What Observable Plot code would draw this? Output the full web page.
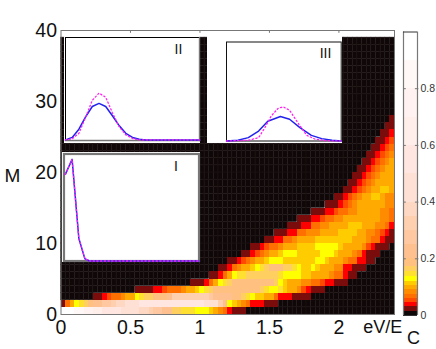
<!DOCTYPE html>
<html><head><meta charset="utf-8">
<script src="https://cdn.jsdelivr.net/npm/d3@7"></script>
<script src="https://cdn.jsdelivr.net/npm/@observablehq/plot@0.6"></script>
<style>
html,body{margin:0;padding:0;background:#fff}
#fig{position:relative;width:436px;height:349px;overflow:hidden;font-family:"Liberation Sans",Arial,sans-serif}
#fig svg{position:absolute;display:block;background:transparent}
</style></head><body><div id="fig"></div>
<script>
// colour scale
const thresholds=[.015,.03,.047,.06,.075,.09,.105,.12,.137,.155,.173,.2,.25,.3,.35,.4,.5,.6,.7,.8,.9];
const colours=["#100808","#7a0c0c","#ff0000","#ff4a00","#ff7000","#ff8c00","#ffaa00","#ffcc00","#ffff00","#ffe030","#ffd060","#ffc080","#ffc090","#ffc8a0","#ffd0b0","#ffd8c4","#ffe0d4","#ffe6e0","#ffeeea","#fff2f0","#fff8f7","#ffffff"];
// heat map: first occupied column of each row M, then the values read from that column on
const rowStart=[0,0,7,16,28,32,34,36,39,41,44,46,49,51,54,57,59,61,62,63,64,65,66,67,68,69,70,71];
const M0=[.95,.95,.9,.85,.8,.75,.7,.65,.6,.58,.55,.52,.5,.48,.45,.42,.4,.38,.35,.32,.28,.26,.24,.22,.17,.165,.15,.146,.146,.135,.128,.125,.11,.095,.085,.07,.04,.022,.022,.022];
const M1=[.022,.06,.1,.128,.15,.17,.19,.2,.22,.25,.28,.32,.35,.38,.42,.45,.48,.5,.5,.5,.5,.5,.5,.5,.5,.5,.5,.5,.5,.5,.5,.48,.48,.45,.3,.22,.128,.11,.095,.08,.07,.04,.04,.04,.022,.022,.022];
const M2=[.022,.022,.04,.055,.07,.07,.08,.09,.1,.128,.146,.165,.17,.18,.19,.19,.2,.3,.3,.3,.3,.3,.3,.3,.3,.25,.24,.22,.21,.2,.19,.18,.17,.146,.128,.11,.11,.1,.09,.07,.04,.04,.04,.022,.022,.022,.022];
const M3=[.022,.022,.022,.022,.04,.04,.05,.06,.07,.07,.08,.09,.1,.11,.128,.146,.165,.18,.19,.19,.19,.19,.19,.19,.19,.19,.19,.17,.146,.128,.128,.146,.11,.1,.09,.08,.055,.04,.022,.022,.022];
const M4=[.022,.022,.022,.04,.06,.09,.128,.146,.17,.19,.19,.19,.19,.19,.19,.19,.19,.19,.165,.128,.11,.1,.095,.09,.08,.08,.07,.07,.055,.04,.04,.022,.022,.022];
const M5=[.022,.022,.04,.07,.09,.128,.146,.15,.165,.17,.17,.17,.17,.17,.17,.146,.128,.128,.128,.125,.115,.11,.1,.1,.1,.095,.08,.07,.06,.04,.022,.022];
const M6=[.022,.022,.04,.06,.075,.09,.1,.11,.128,.146,.165,.175,.18,.18,.17,.165,.15,.13,.115,.112,.128,.115,.1,.1,.095,.08,.075,.04,.04,.022,.022,.022];
const M7=[.022,.022,.04,.055,.07,.08,.09,.1,.112,.12,.128,.125,.115,.112,.112,.112,.112,.112,.11,.128,.128,.115,.1,.1,.095,.08,.07,.07,.04,.04,.022,.022];
const M8=[.022,.022,.04,.055,.07,.085,.095,.1,.112,.128,.128,.128,.115,.112,.11,.112,.112,.128,.128,.128,.11,.1,.1,.09,.08,.07,.04,.022,.022,.022];
const M9=[.022,.022,.04,.05,.06,.07,.08,.095,.1,.1,.11,.11,.112,.112,.128,.128,.128,.128,.125,.11,.1,.1,.1,.09,.08,.05,.04,.022,.022,.022];
const M10=[.022,.022,.04,.04,.06,.07,.08,.09,.095,.1,.1,.11,.11,.112,.112,.112,.112,.11,.11,.1,.1,.095,.08,.07,.06,.04,.022,.022];
const M11=[.022,.022,.022,.04,.04,.06,.07,.075,.08,.085,.09,.1,.1,.1,.112,.112,.112,.11,.1,.09,.085,.08,.07,.055,.04,.022];
const M12=[.022,.022,.022,.04,.04,.06,.07,.08,.085,.09,.1,.1,.1,.112,.112,.112,.1,.1,.095,.08,.075,.07,.04];
const M13=[.022,.022,.022,.04,.04,.05,.06,.07,.08,.085,.09,.1,.1,.1,.1,.1,.1,.09,.08,.075,.07];
const M14=[.022,.022,.022,.04,.04,.05,.06,.07,.08,.085,.095,.1,.1,.1,.095,.085,.08,.07];
const M15=[.022,.022,.022,.04,.05,.07,.08,.09,.1,.1,.1,.1,.09,.085,.075];
const M16=[.022,.022,.04,.05,.07,.08,.095,.1,.11,.11,.1,.085,.08];
const M17=[.022,.022,.04,.055,.07,.08,.09,.1,.112,.112,.1];
const M18=[.022,.022,.04,.055,.07,.08,.09,.095,.1,.1];
const M19=[.022,.022,.04,.055,.07,.08,.09,.095,.1];
const M20=[.022,.022,.04,.055,.07,.08,.09,.1];
const M21=[.022,.022,.04,.055,.07,.08,.095];
const M22=[.022,.022,.04,.05,.07,.08];
const M23=[.022,.022,.04,.05,.07];
const M24=[.022,.022,.04,.05];
const M25=[.022,.022,.04];
const M26=[.022,.022];
const M27=[.022];
const rowValues=[M0,M1,M2,M3,M4,M5,M6,M7,M8,M9,M10,M11,M12,M13,M14,M15,M16,M17,M18,M19,M20,M21,M22,M23,M24,M25,M26,M27];
const rowCount=39, colCount=72, colStep=1/30;
// tick labels
const xTicks=[0,.5,1,1.5,2], xTopTicks=[.5,1,1.5,2], yTicks=[0,10,20,30,40], barTicks=[0,.2,.4,.6,.8];
// inset curves: fraction of the inset box
const insetIX=[.01,.06,.11,.155,.19,1], insetIY=[.81,.95,.21,.02,0,0];
const insetIIX=[0,.05,.1,.15,.2,.25,.3,.35,.4,.45,.5,.55,.6,1];
const insetIIBlue=[.006,.03,.11,.23,.33,.36,.33,.24,.145,.07,.03,.013,.006,.006];
const insetIIPink=[.006,.016,.07,.225,.39,.46,.42,.27,.135,.055,.02,.006,.006,.006];
const insetIIIBlueX=[0,.1,.19,.28,.36,.47,.55,.64,.74,.83,.92,1];
const insetIIIBlueY=[0,.007,.034,.1,.2,.247,.22,.135,.057,.024,.007,0];
const insetIIIPinkX=[0,.19,.28,.335,.39,.45,.495,.55,.63,.7,.77,.86,1];
const insetIIIPinkY=[0,.007,.034,.135,.253,.33,.345,.31,.17,.057,.02,.003,0];

const cells=[];
for(let M=0;M<rowCount;M++){
  const start=rowStart[M]??colCount, vals=rowValues[M]??[];
  for(let c=0;c<colCount;c++){
    const v=(c>=start&&c-start<vals.length)?vals[c-start]:0;
    cells.push({x1:c*colStep,x2:(c+1)*colStep,y1:M,y2:M+1,v});
  }
}
const colorScale={type:"threshold",domain:thresholds,range:colours};
const font='"Liberation Sans",Arial,sans-serif';
const fig=document.getElementById("fig");
function place(el,left,top){el.style.left=left+"px";el.style.top=top+"px";fig.appendChild(el);}

const main=Plot.plot({
  width:436,height:349,marginLeft:60.5,marginRight:42,marginTop:30,marginBottom:35,
  style:{fontFamily:font,background:"transparent",overflow:"visible"},
  x:{domain:[0,2.4],axis:null},y:{domain:[0,40],axis:null},color:colorScale,
  marks:[
    Plot.rect(cells.filter(d=>d.v===0),{x1:"x1",x2:"x2",y1:"y1",y2:"y2",fill:"v",stroke:"#1f1616",strokeWidth:.5}),
    Plot.rect(cells.filter(d=>d.v>0),{x1:"x1",x2:"x2",y1:"y1",y2:"y2",fill:"v",shapeRendering:"crispEdges"}),
    Plot.frame({stroke:"#777"}),
    Plot.ruleX(xTopTicks,{x:d=>d,y1:39.6,y2:40,stroke:"#777"}),
    Plot.axisX({anchor:"bottom",ticks:xTicks,tickSize:0,tickPadding:6,fontSize:19.5,label:null,tickFormat:String,fill:"#111"}),
    Plot.axisY({anchor:"left",ticks:yTicks,tickSize:0,tickPadding:4,fontSize:19.5,label:null,tickFormat:String,fill:"#111"}),
    Plot.text(["M"],{x:-.35,y:19.5,fontSize:19,textAnchor:"middle",fill:"#111"}),
    Plot.text(["eV/E"],{x:2.175,y:-1.85,fontSize:18,textAnchor:"start",fill:"#111"}),
    Plot.text(["C"],{x:2.49,y:-3.4,fontSize:18,textAnchor:"start",fill:"#111"})
  ]
});
place(main,0,0);

const bands=thresholds.map((t,i)=>({lo:i?thresholds[i-1]:0,hi:t}));
bands.push({lo:thresholds[thresholds.length-1],hi:1});
const bar=Plot.plot({
  width:38,height:310,marginLeft:5,marginRight:19,marginTop:11.5,marginBottom:15,
  style:{fontFamily:font,background:"transparent",overflow:"visible"},
  x:{domain:[0,1],axis:null},y:{domain:[0,1],axis:null},color:colorScale,
  marks:[
    Plot.rect(bands,{x1:0,x2:1,y1:"lo",y2:"hi",fill:"lo",shapeRendering:"crispEdges"}),
    Plot.ruleX([0,1],{stroke:"#777",strokeWidth:1.2}),
    Plot.ruleY([1],{stroke:"#333"}),
    Plot.ruleY([0],{stroke:"#333"}),
    Plot.ruleY(barTicks.slice(1),{y:d=>d,x1:0,x2:.2,stroke:"#777"}),
    Plot.ruleY(barTicks.slice(1),{y:d=>d,x1:.85,x2:1.1,stroke:"#777"}),
    Plot.axisY({anchor:"right",ticks:barTicks,tickSize:0,tickPadding:3,fontSize:10.5,label:null,tickFormat:String,fill:"#333"})
  ]
});
place(bar,398,20);

function inset(o){
  const p=Plot.plot({
    width:o.w,height:o.h,marginLeft:o.ml,marginRight:o.mr,marginTop:o.mt,marginBottom:o.mb,
    style:{fontFamily:font,background:"#fff",overflow:"visible"},
    x:{domain:[0,1],axis:null},y:{domain:[0,1],axis:null},
    marks:[
      ...o.frame,
      Plot.line(o.blue.x.map((x,i)=>[x,o.blue.y[i]]),{stroke:"#2222ee",strokeWidth:1.5,strokeLinejoin:"round"}),
      Plot.line(o.pink.x.map((x,i)=>[x,o.pink.y[i]]),{stroke:"#ff22ee",strokeWidth:1.3,strokeDasharray:"1.3 2.4"}),
      Plot.text([o.label],{x:o.lx,y:.88,fontSize:14,fill:"#111",textAnchor:"middle"})
    ]
  });
  p.style.background="#fff";
  place(p,o.left,o.top);
}
const blackGrey=[
  Plot.frame({anchor:"top",stroke:"#000",strokeWidth:1}),
  Plot.frame({anchor:"left",stroke:"#000",strokeWidth:1}),
  Plot.frame({anchor:"bottom",stroke:"#777",strokeWidth:1.4}),
  Plot.frame({anchor:"right",stroke:"#777",strokeWidth:1.4})
];
inset({left:64,top:36,w:136,h:107,ml:1,mr:1,mt:1,mb:3,frame:blackGrey,label:"II",lx:.843,
  blue:{x:insetIIX,y:insetIIBlue},pink:{x:insetIIX,y:insetIIPink}});
inset({left:207,top:33.5,w:135,h:109.5,ml:19,mr:1.3,mt:7.5,mb:3,frame:[Plot.frame({stroke:"#111",strokeWidth:1})],label:"III",lx:.863,
  blue:{x:insetIIIBlueX,y:insetIIIBlueY},pink:{x:insetIIIPinkX,y:insetIIIPinkY}});
inset({left:62,top:151.5,w:138,h:110.5,ml:1.5,mr:1.5,mt:1.5,mb:2,frame:[Plot.frame({stroke:"#777",strokeWidth:2.2})],label:"I",lx:.83,
  blue:{x:insetIX,y:insetIY},pink:{x:insetIX,y:insetIY}});
</script></body></html>
